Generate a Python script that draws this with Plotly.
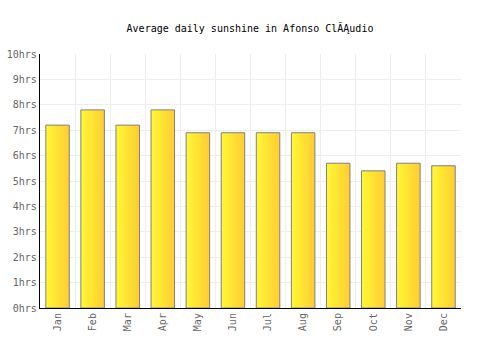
import plotly.graph_objects as go

months = ["Jan", "Feb", "Mar", "Apr", "May", "Jun", "Jul", "Aug", "Sep", "Oct", "Nov", "Dec"]
sunshine = [7.2, 7.8, 7.2, 7.8, 6.9, 6.9, 6.9, 6.9, 5.7, 5.4, 5.7, 5.6]
y_ticks = list(range(0, 11))
y_labels = [f"{v}hrs" for v in y_ticks]

title = "Average daily sunshine in Afonso ClĂĄudio"
font = "DejaVu Sans Mono"
half = 0.335

fig = go.Figure()
for i, v in enumerate(sunshine):
    fig.add_trace(go.Scatter(
        x=[i - half, i + half, i + half, i - half, i - half],
        y=[0, 0, v, v, 0],
        mode="lines",
        fill="toself",
        fillgradient=dict(type="horizontal",
                          colorscale=[[0, "#FFF833"], [1, "#FFCC33"]]),
        line=dict(color="#808080", width=1),
        hoverinfo="skip",
        showlegend=False,
    ))

fig.update_layout(
    width=500, height=350,
    margin=dict(l=40, r=39, t=54, b=42),
    paper_bgcolor="white", plot_bgcolor="white",
    title=dict(text=title, x=0.5, xanchor="center", y=1 - 28/350, yanchor="middle",
               font=dict(family=font, size=10, color="#000")),
    font=dict(family=font, size=10, color="#666"),
    xaxis=dict(
        range=[-0.5, len(months) - 0.5],
        tickmode="array", tickvals=list(range(len(months))), ticktext=months,
        tickangle=-90, showgrid=False, zeroline=False,
        showline=True, linecolor="#000", linewidth=1.2,
        ticks="", ticklen=0, automargin=False,
        minor=dict(tick0=-0.5, dtick=1, showgrid=True, gridcolor="#eeeeee",
                   gridwidth=1, ticks=""),
        tickfont=dict(family=font, size=10, color="#666"),
        fixedrange=True,
    ),
    yaxis=dict(
        range=[0, 10],
        tickmode="array", tickvals=y_ticks, ticktext=y_labels,
        showgrid=True, gridcolor="#eeeeee", gridwidth=1, zeroline=False,
        showline=True, linecolor="#000", linewidth=1.2,
        ticks="", automargin=False,
        tickfont=dict(family=font, size=10, color="#666"),
        fixedrange=True,
    ),
)

fig.write_html("out.html")
